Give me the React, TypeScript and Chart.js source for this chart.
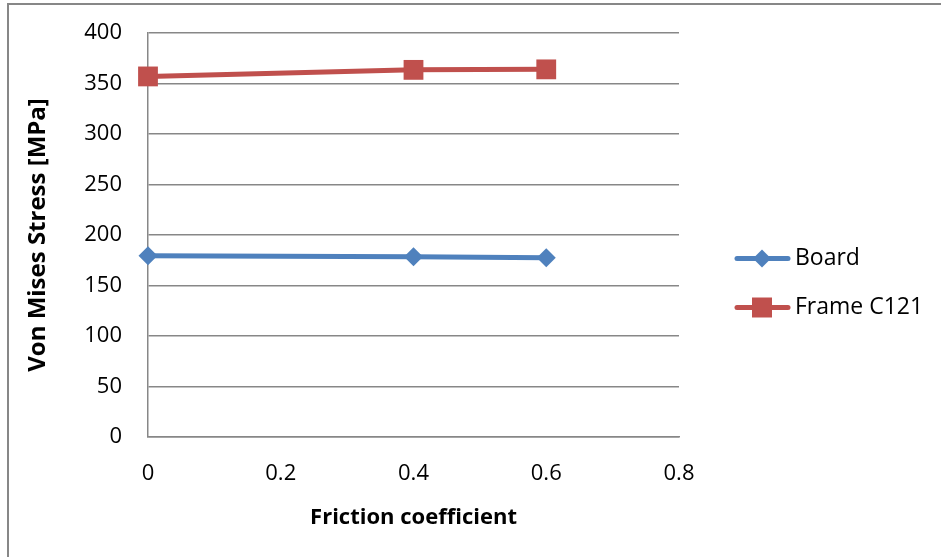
import React, { useEffect, useRef } from "react";
import { Chart, registerables } from "chart.js";

Chart.register(...registerables);

const frictionX = [0, 0.4, 0.6];
const boardValues = [179.5, 178.5, 177.5];
const frameValues = [357, 363.5, 364];
const seriesNames = ["Board", "Frame C121"];
const xTitle = "Friction coefficient";
const yTitle = "Von Mises Stress [MPa]";

const BLUE = "#4F81BD";
const RED = "#C0504D";
const GRID = "#878787";
const FONT = "'Open Sans', 'Liberation Sans', sans-serif";

export default function App() {
  const ref = useRef<HTMLCanvasElement | null>(null);
  useEffect(() => {
    if (!ref.current) return;
    const framePlugin = {
      id: "frame",
      beforeDraw(chart: any) {
        const ctx = chart.ctx;
        ctx.save();
        ctx.fillStyle = "#ffffff";
        ctx.fillRect(0, 0, chart.width, chart.height);
        ctx.fillStyle = GRID;
        ctx.fillRect(7, 3, 2, chart.height);
        ctx.fillRect(7, 3, chart.width, 2);
        ctx.restore();
      },
    };
    const legendPlugin = {
      id: "customLegend",
      afterDraw(chart: any) {
        const ctx = chart.ctx;
        const rows = [
          { y: 258.5, color: BLUE, style: "diamond", label: seriesNames[0] },
          { y: 307.5, color: RED, style: "square", label: seriesNames[1] },
        ];
        ctx.save();
        for (const r of rows) {
          ctx.strokeStyle = r.color;
          ctx.lineWidth = 5;
          ctx.lineCap = "round";
          ctx.beginPath();
          ctx.moveTo(737, r.y);
          ctx.lineTo(788, r.y);
          ctx.stroke();
          ctx.fillStyle = r.color;
          ctx.beginPath();
          if (r.style === "diamond") {
            ctx.moveTo(762, r.y - 9);
            ctx.lineTo(771, r.y);
            ctx.lineTo(762, r.y + 9);
            ctx.lineTo(753, r.y);
            ctx.closePath();
          } else {
            ctx.rect(752, r.y - 10, 20, 20);
          }
          ctx.fill();
          ctx.fillStyle = "#000";
          ctx.font = `23px ${FONT}`;
          ctx.textBaseline = "middle";
          ctx.textAlign = "left";
          ctx.fillText(r.label, 795, r.y);
        }
        ctx.restore();
      },
    };
    const chart = new Chart(ref.current, {
      type: "line",
      data: {
        datasets: [
          {
            label: seriesNames[0],
            data: frictionX.map((x, i) => ({ x, y: boardValues[i] })),
            borderColor: BLUE,
            backgroundColor: BLUE,
            borderWidth: 5,
            pointStyle: "rectRot",
            pointRadius: 9.5,
            pointBorderWidth: 0,
            pointBackgroundColor: BLUE,
            clip: false,
          },
          {
            label: seriesNames[1],
            data: frictionX.map((x, i) => ({ x, y: frameValues[i] })),
            borderColor: RED,
            backgroundColor: RED,
            borderWidth: 5,
            pointStyle: "rect",
            pointRadius: 14,
            pointBorderWidth: 0,
            pointBackgroundColor: RED,
            clip: false,
          },
        ],
      },
      options: {
        animation: false,
        responsive: false,
        maintainAspectRatio: false,
        layout: { padding: { left: 0, top: 33, right: 262, bottom: 0 } },
        plugins: { legend: { display: false }, tooltip: { enabled: false } },
        scales: {
          x: {
            type: "linear",
            min: 0,
            max: 0.8,
            ticks: {
              stepSize: 0.2,
              color: "#000",
              font: { family: FONT, size: 22 },
              padding: 24,
              maxRotation: 0,
            },
            grid: { display: false, drawTicks: false },
            border: { display: true, color: GRID, width: 1.5 },
            title: {
              display: true,
              text: xTitle,
              color: "#000",
              font: { family: FONT, size: 22, weight: "bold" },
              padding: { top: 0, bottom: 26 },
            },
            afterFit(scale: any) {
              scale.height = 557 - 437;
              scale.paddingLeft = 0;
              scale.paddingRight = 0;
            },
          },
          y: {
            min: 0,
            max: 400,
            ticks: {
              stepSize: 50,
              color: "#000",
              font: { family: FONT, size: 22 },
              padding: 26,
            },
            grid: { color: GRID, lineWidth: 1.5, drawTicks: false },
            border: { display: true, color: GRID, width: 1.5 },
            title: {
              display: true,
              text: yTitle,
              color: "#000",
              font: { family: FONT, size: 24, weight: "bold" },
              padding: { top: 24, bottom: 0 },
            },
            afterFit(scale: any) {
              scale.width = 148;
              scale.paddingTop = 0;
              scale.paddingBottom = 0;
            },
          },
        },
      },
      plugins: [framePlugin, legendPlugin],
    } as any);
    return () => chart.destroy();
  }, []);
  return (
    <div style={{ position: "fixed", left: 0, top: 0, width: 941, height: 557 }}>
      <canvas ref={ref} width={941} height={557} style={{ display: "block" }} />
    </div>
  );
}
